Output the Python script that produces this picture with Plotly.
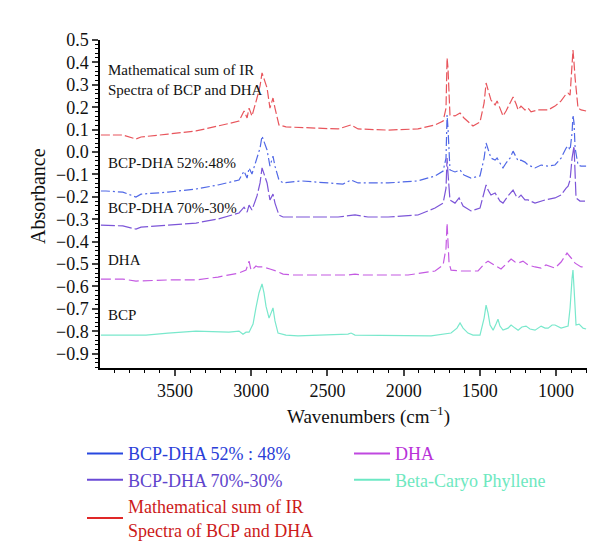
import plotly.graph_objects as go

# ---------------- data ----------------
sum_wn = [3986, 3953, 3842, 3756, 3723, 3546, 3362, 3218, 3080, 3047, 3027, 3014, 2995, 2962, 2942, 2929,
          2916, 2896, 2877, 2857, 2844, 2818, 2772, 2627, 2430, 2345, 2299, 2102, 1906, 1794, 1741, 1722,
          1715, 1709, 1702, 1696, 1663, 1630, 1604, 1545, 1499, 1472, 1459, 1446, 1427, 1400, 1387, 1368,
          1348, 1328, 1302, 1282, 1262, 1249, 1230, 1204, 1184, 1164, 1118, 1052, 1007, 967, 934, 921,
          908, 895, 889, 882, 875, 856, 836, 803]
sum_abs = [0.076, 0.076, 0.076, 0.058, 0.067, 0.080, 0.094, 0.116, 0.138, 0.183, 0.152, 0.196, 0.161, 0.241, 0.295, 0.353,
           0.330, 0.286, 0.196, 0.241, 0.196, 0.121, 0.112, 0.107, 0.103, 0.121, 0.103, 0.098, 0.103, 0.121, 0.138, 0.196,
           0.420, 0.375, 0.196, 0.165, 0.161, 0.174, 0.152, 0.116, 0.134, 0.219, 0.308, 0.277, 0.232, 0.210, 0.228, 0.196,
           0.161, 0.183, 0.219, 0.246, 0.214, 0.188, 0.205, 0.188, 0.196, 0.179, 0.188, 0.188, 0.205, 0.228, 0.259, 0.263,
           0.254, 0.375, 0.455, 0.397, 0.330, 0.196, 0.188, 0.183]

mix52_wn = [3986, 3953, 3842, 3756, 3723, 3546, 3362, 3218, 3080, 3047, 3027, 3014, 2995, 2962, 2942, 2929,
            2916, 2896, 2877, 2857, 2844, 2818, 2791, 2673, 2496, 2398, 2345, 2299, 2102, 1906, 1794, 1741,
            1722, 1715, 1709, 1702, 1696, 1663, 1630, 1604, 1558, 1499, 1472, 1459, 1446, 1427, 1400, 1387,
            1368, 1348, 1328, 1302, 1282, 1262, 1249, 1230, 1204, 1184, 1138, 1098, 1052, 1007, 967, 934,
            921, 908, 895, 889, 882, 875, 856, 836, 803]
mix52_abs = [-0.174, -0.174, -0.179, -0.201, -0.188, -0.179, -0.165, -0.147, -0.125, -0.085, -0.116, -0.071, -0.098, -0.027, 0.018, 0.071,
             0.049, 0.009, -0.063, -0.018, -0.063, -0.125, -0.138, -0.129, -0.138, -0.143, -0.125, -0.138, -0.138, -0.129, -0.107, -0.085,
             -0.027, 0.165, 0.107, -0.027, -0.080, -0.089, -0.080, -0.103, -0.116, -0.107, -0.027, 0.040, 0.009, -0.027, -0.036, -0.027,
             -0.049, -0.071, -0.049, -0.027, 0.004, -0.027, -0.040, -0.036, -0.045, -0.058, -0.071, -0.058, -0.063, -0.058, -0.027, 0.018,
             0.027, 0.009, 0.085, 0.165, 0.129, 0.018, -0.058, -0.063, -0.063]

mix70_wn = [3986, 3842, 3756, 3723, 3546, 3362, 3218, 3080, 3047, 3027, 3014, 2995, 2962, 2942, 2929, 2916,
            2896, 2877, 2857, 2844, 2818, 2791, 2627, 2430, 2319, 2234, 2102, 1906, 1794, 1741, 1722, 1715,
            1709, 1702, 1696, 1663, 1636, 1610, 1558, 1499, 1472, 1459, 1446, 1427, 1400, 1387, 1368, 1348,
            1315, 1282, 1262, 1249, 1230, 1204, 1184, 1138, 1072, 1007, 967, 934, 921, 908, 895, 882,
            875, 869, 843, 810]
mix70_abs = [-0.326, -0.330, -0.344, -0.335, -0.326, -0.317, -0.299, -0.272, -0.246, -0.268, -0.237, -0.259, -0.196, -0.138, -0.071, -0.094,
             -0.138, -0.214, -0.188, -0.228, -0.281, -0.290, -0.290, -0.290, -0.281, -0.290, -0.290, -0.281, -0.250, -0.228, -0.161, -0.027,
             -0.094, -0.183, -0.214, -0.228, -0.205, -0.241, -0.263, -0.250, -0.183, -0.147, -0.170, -0.192, -0.183, -0.196, -0.219, -0.228,
             -0.196, -0.170, -0.196, -0.205, -0.192, -0.214, -0.214, -0.228, -0.214, -0.205, -0.192, -0.161, -0.152, -0.125, -0.027, 0.027,
             -0.071, -0.205, -0.219, -0.219]

dha_wn = [3986, 3842, 3756, 3546, 3362, 3218, 3080, 3034, 3014, 3001, 2982, 2969, 2955, 2923, 2877, 2837,
          2791, 2726, 2542, 2365, 2319, 2266, 1971, 1794, 1741, 1722, 1715, 1709, 1702, 1689, 1623, 1512,
          1472, 1446, 1420, 1394, 1361, 1328, 1295, 1269, 1249, 1217, 1184, 1138, 1098, 1066, 1007, 967,
          928, 901, 875, 836, 803]
dha_abs = [-0.567, -0.567, -0.576, -0.571, -0.571, -0.558, -0.540, -0.527, -0.487, -0.527, -0.518, -0.509, -0.513, -0.513, -0.522, -0.531,
           -0.545, -0.549, -0.549, -0.549, -0.545, -0.549, -0.549, -0.531, -0.504, -0.429, -0.317, -0.384, -0.496, -0.527, -0.531, -0.531,
           -0.500, -0.487, -0.500, -0.509, -0.522, -0.500, -0.478, -0.491, -0.496, -0.487, -0.504, -0.513, -0.518, -0.504, -0.518, -0.491,
           -0.451, -0.473, -0.496, -0.513, -0.513]

bcp_wn = [3986, 3690, 3546, 3362, 3146, 3080, 3054, 3034, 3014, 2988, 2969, 2949, 2929, 2916, 2903, 2883,
          2870, 2857, 2844, 2824, 2772, 2693, 2365, 2345, 2319, 1971, 1820, 1689, 1650, 1630, 1610, 1578,
          1545, 1499, 1472, 1459, 1446, 1433, 1413, 1394, 1381, 1368, 1348, 1315, 1295, 1269, 1249, 1224,
          1197, 1171, 1138, 1098, 1072, 1052, 1026, 1007, 967, 921, 908, 895, 889, 882, 869, 849,
          823, 803]
bcp_abs = [-0.817, -0.817, -0.808, -0.799, -0.804, -0.799, -0.813, -0.804, -0.804, -0.768, -0.696, -0.629, -0.589, -0.629, -0.688, -0.741,
           -0.719, -0.696, -0.754, -0.808, -0.817, -0.821, -0.813, -0.808, -0.817, -0.821, -0.821, -0.808, -0.786, -0.763, -0.786, -0.808,
           -0.817, -0.817, -0.741, -0.683, -0.719, -0.772, -0.795, -0.768, -0.746, -0.777, -0.795, -0.786, -0.772, -0.786, -0.795, -0.781,
           -0.777, -0.790, -0.795, -0.777, -0.786, -0.786, -0.772, -0.772, -0.786, -0.777, -0.696, -0.563, -0.527, -0.607, -0.772, -0.768,
           -0.786, -0.790]

x_ticks = [3500, 3000, 2500, 2000, 1500, 1000]

legend_names = {
    "mix52": "BCP-DHA 52% : 48%",
    "mix70": "BCP-DHA 70%-30%",
    "sum": "Mathematical sum of IR<br>Spectra of BCP and DHA",
    "dha": "DHA",
    "bcp": "Beta-Caryo Phyllene",
}

# ---------------- styling ----------------
FONT = "Liberation Serif"
line_col = {"sum": "#e8555c", "mix52": "#5068e6", "mix70": "#7c55d8", "dha": "#c45ae2", "bcp": "#79e8cc"}
leg_line = {"sum": "#e02828", "mix52": "#2848e0", "mix70": "#6a4ad6", "dha": "#c048e0", "bcp": "#6ce8c4"}
leg_text = {"sum": "#cc1a1a", "mix52": "#2a3ed8", "mix70": "#5e44cc", "dha": "#b832d8", "bcp": "#6ee8c0"}
dash = {"sum": "9px,3px", "mix52": "9px,3px,2px,3px", "mix70": "14px,3px", "dha": "10px,4px", "bcp": "solid"}

series = {
    "sum": (sum_wn, sum_abs),
    "mix52": (mix52_wn, mix52_abs),
    "mix70": (mix70_wn, mix70_abs),
    "dha": (dha_wn, dha_abs),
    "bcp": (bcp_wn, bcp_abs),
}

fig = go.Figure()
for key, (xs, ys) in series.items():
    fig.add_trace(go.Scatter(x=xs, y=ys, mode="lines", showlegend=False,
                             line=dict(color=line_col[key], width=1.2, dash=dash[key])))

# legend-only entries (solid lines), two legend columns
legend_of = {"mix52": "legend", "mix70": "legend", "sum": "legend", "dha": "legend2", "bcp": "legend2"}
for key in ["mix52", "mix70", "sum", "dha", "bcp"]:
    fig.add_trace(go.Scatter(x=[None], y=[None], mode="lines", legend=legend_of[key],
                             name=f'<span style="color:{leg_text[key]}">{legend_names[key]}</span>',
                             line=dict(color=leg_line[key], width=2)))

# in-plot labels (paper coords)
labels = [("Mathematical sum of IR", 62), ("Spectra of BCP and DHA", 82), ("BCP-DHA 52%:48%", 155),
          ("BCP-DHA 70%-30%", 200), ("DHA", 252), ("BCP", 307)]
PT, PB, PL, PR = 32, 360, 92, 579
ph = PB - PT
pw = PR - PL
for txt, py in labels:
    fig.add_annotation(text=txt, x=(98 - PL) / pw, y=(PB - py) / ph, xref="paper", yref="paper",
                       xanchor="left", yanchor="middle", showarrow=False,
                       font=dict(family=FONT, size=15, color="#111111"))

fig.add_annotation(text="Wavenumbers (cm<sup>−1</sup>)", x=(360 - PL) / pw, y=(PB - 408) / ph,
                   xref="paper", yref="paper", xanchor="center", yanchor="middle", showarrow=False,
                   font=dict(family=FONT, size=19, color="#111111"))
fig.add_annotation(text="Absorbance", x=(30 - PL) / pw, y=(PB - 188) / ph, textangle=-90,
                   xref="paper", yref="paper", xanchor="center", yanchor="middle", showarrow=False,
                   font=dict(family=FONT, size=20, color="#111111"))

leg_common = dict(orientation="v", yanchor="top", xanchor="left", font=dict(family=FONT, size=18),
                  itemwidth=36, tracegroupgap=0, bgcolor="rgba(0,0,0,0)", traceorder="normal")

fig.update_layout(
    width=600, height=555,
    margin=dict(l=PL, r=600 - PR, t=PT, b=555 - PB),
    paper_bgcolor="white", plot_bgcolor="white",
    font=dict(family=FONT, size=18, color="#111111"),
    showlegend=True,
    legend=dict(x=(74 - PL) / pw, y=-0.205, **leg_common),
    legend2=dict(x=(341 - PL) / pw, y=-0.205, **leg_common),
    xaxis=dict(range=[3992, 797], tickvals=x_ticks, ticks="outside", ticklen=6, tickwidth=1.5,
               showline=True, linecolor="black", linewidth=1.5, showgrid=False, zeroline=False,
               tickfont=dict(size=18, family=FONT),
               minor=dict(dtick=100, ticks="outside", ticklen=3, tickwidth=1, tickcolor="black", showgrid=False)),
    yaxis=dict(range=[-0.964, 0.5], dtick=0.1, tick0=0, tickformat=".1f", ticks="outside", ticklen=6,
               tickwidth=1.5, showline=True, linecolor="black", linewidth=1.5, showgrid=False, zeroline=False,
               tickfont=dict(size=18, family=FONT),
               minor=dict(dtick=0.02, ticks="outside", ticklen=3, tickwidth=1, tickcolor="black", showgrid=False)),
)

fig.write_html("out.html")
